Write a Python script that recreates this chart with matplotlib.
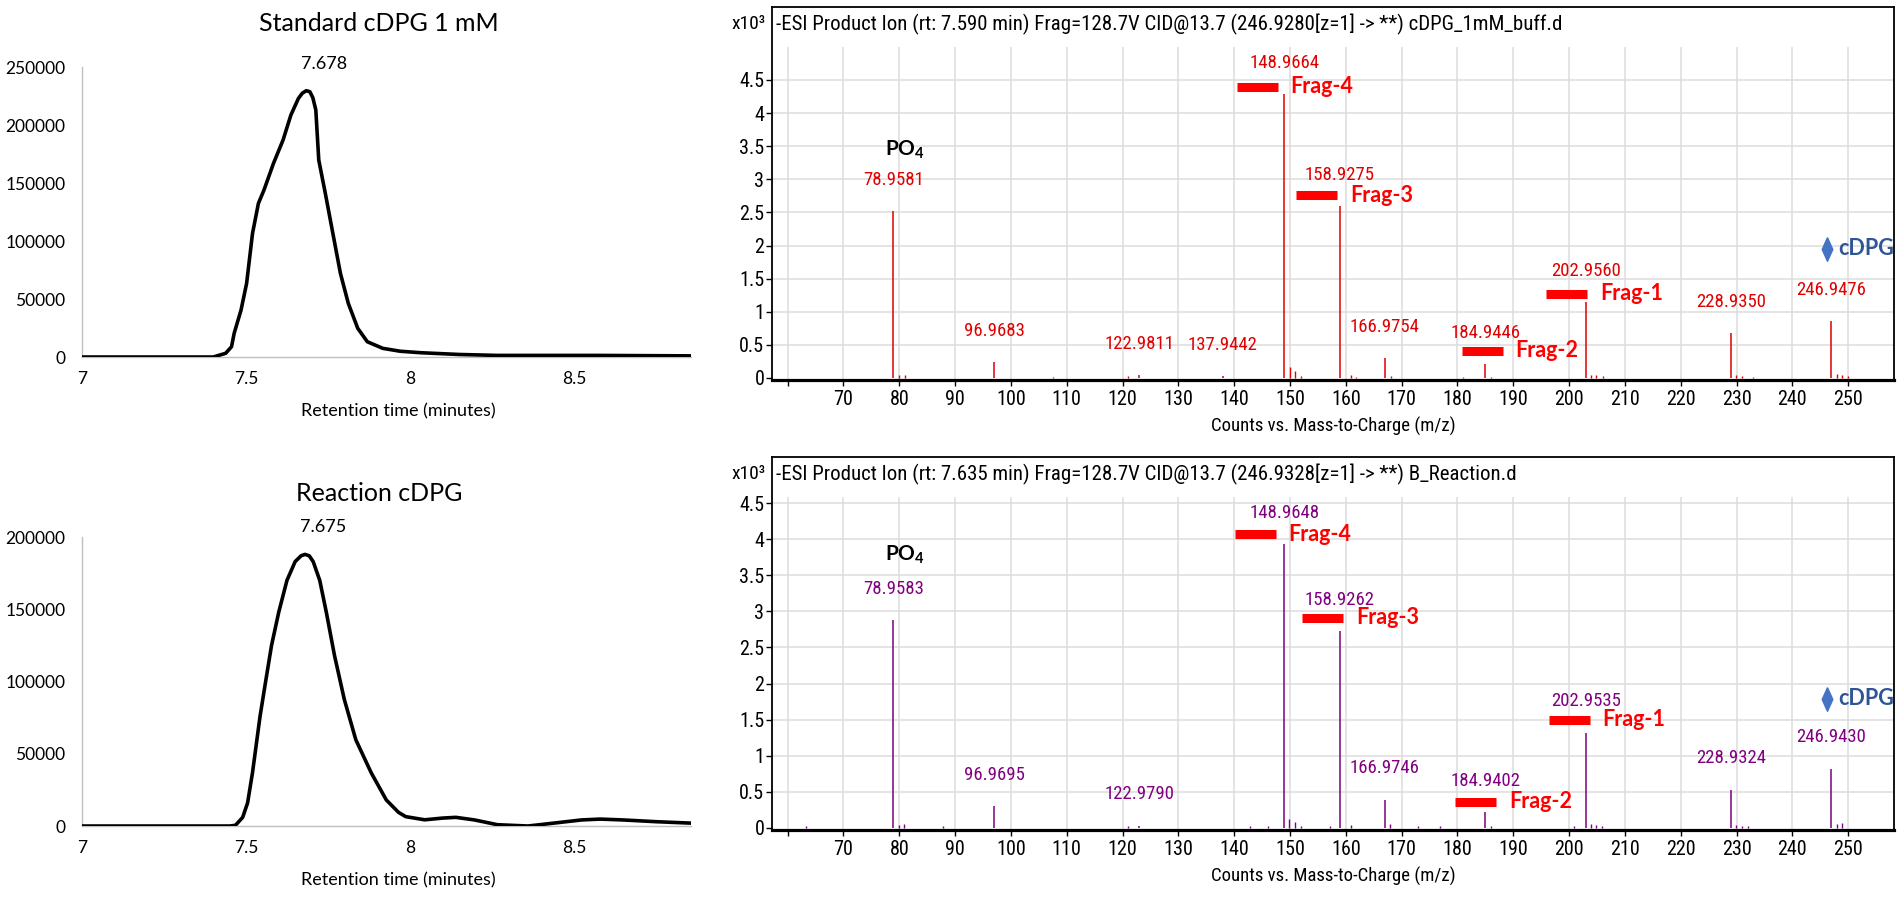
import numpy as np
import matplotlib.pyplot as plt
from matplotlib import font_manager as fm

plt.rcParams['font.family'] = ['Lato', 'DejaVu Sans']
plt.rcParams['mathtext.fontset'] = 'custom'
plt.rcParams['mathtext.rm'] = 'Lato'
plt.rcParams['mathtext.bf'] = 'Lato:bold'

# narrow font for the instrument-style panels, use what is installed
_names = {f.name for f in fm.fontManager.ttflist}
NARROW_STRETCH = 'normal'
if 'Liberation Sans Narrow' in _names:
    NARROW = ['Liberation Sans Narrow', 'DejaVu Sans']
elif 'Roboto Condensed' in _names:
    NARROW = ['Roboto Condensed', 'DejaVu Sans']
elif any(f.name == 'DejaVu Sans' and f.stretch == 'condensed' for f in fm.fontManager.ttflist):
    NARROW = ['DejaVu Sans']
    NARROW_STRETCH = 'condensed'
else:
    NARROW = ['Liberation Sans', 'DejaVu Sans']

# chromatograms: retention time (min) / intensity
std_t = [7.0, 7.40, 7.438, 7.456, 7.464, 7.485, 7.502, 7.52, 7.538, 7.555, 7.584, 7.613,
         7.637, 7.66, 7.672, 7.684, 7.695, 7.704, 7.713, 7.722, 7.742, 7.765, 7.788, 7.812,
         7.841, 7.87, 7.917, 7.97, 8.034, 8.15, 8.267, 8.57, 8.857]
std_v = [0, 0, 3200, 8900, 20400, 40500, 63500, 106600, 132500, 144000, 167000, 187000,
         208600, 223000, 227500, 229600, 228700, 223500, 213000, 169800, 141100, 106600, 72200, 46300,
         24700, 13200, 7500, 5000, 3700, 2200, 1400, 1400, 1000]
rxn_t = [7.0, 7.45, 7.468, 7.49, 7.505, 7.52, 7.543, 7.56, 7.578, 7.60, 7.625, 7.65, 7.668,
         7.68, 7.693, 7.705, 7.725, 7.745, 7.77, 7.80, 7.835, 7.882, 7.928, 7.965, 7.987,
         8.045, 8.10, 8.14, 8.197, 8.267, 8.36, 8.442, 8.523, 8.58, 8.65, 8.75, 8.857]
rxn_v = [0, 0, 500, 6000, 16000, 37000, 76000, 100000, 125000, 148000, 170000, 183000, 187000,
         188000, 187000, 183000, 170000, 148000, 118000, 87500, 59700, 36800, 18000, 9500, 6500,
         4300, 5500, 6000, 4200, 900, 0, 2100, 4200, 4800, 4200, 3000, 2000]
std_peak = 7.678
rxn_peak = 7.675

# MS/MS spectra: m/z / counts (x10^3); labelled peaks and minor peaks
std_mz = [78.9581, 96.9683, 122.9811, 137.9442, 148.9664, 158.9275, 166.9754, 184.9446,
          202.9560, 228.9350, 246.9476]
std_int = [2.52, 0.24, 0.04, 0.03, 4.29, 2.60, 0.30, 0.21, 1.15, 0.68, 0.86]
std_minor_mz = [80.0, 81.0, 107.5, 120.9, 150.0, 150.9, 152.0, 160.9, 161.9, 168.0, 181.0,
                186.0, 203.9, 204.9, 206.0, 229.9, 231.0, 233.0, 247.9, 248.9, 249.9]
std_minor_int = [0.05, 0.04, 0.02, 0.03, 0.17, 0.10, 0.03, 0.04, 0.02, 0.03, 0.02,
                 0.02, 0.05, 0.04, 0.03, 0.04, 0.03, 0.02, 0.06, 0.04, 0.03]

rxn_mz = [78.9583, 96.9695, 122.9790, 148.9648, 158.9262, 166.9746, 184.9402, 202.9535,
          228.9324, 246.9430]
rxn_int = [2.88, 0.30, 0.03, 3.93, 2.73, 0.39, 0.22, 1.32, 0.53, 0.82]
rxn_minor_mz = [63.2, 79.9, 80.9, 87.8, 121.0, 142.8, 146.0, 149.9, 150.9, 151.9, 157.1,
                160.9, 167.9, 173.0, 176.9, 186.0, 200.9, 203.9, 204.9, 205.9, 229.9,
                231.0, 232.0, 247.9, 248.9]
rxn_minor_int = [0.02, 0.04, 0.05, 0.02, 0.02, 0.02, 0.02, 0.12, 0.08, 0.03, 0.02,
                 0.04, 0.05, 0.02, 0.02, 0.03, 0.03, 0.05, 0.04, 0.03, 0.04,
                 0.03, 0.03, 0.05, 0.06]

frag_names = ['Frag-4', 'Frag-3', 'Frag-2', 'Frag-1']
std_frag_x = [140.5, 151.1, 180.8, 195.9]
std_frag_y = [4.40, 2.76, 0.41, 1.27]
rxn_frag_x = [140.1, 152.2, 179.6, 196.4]
rxn_frag_y = [4.07, 2.91, 0.36, 1.50]

std_header = '-ESI Product Ion (rt: 7.590 min) Frag=128.7V CID@13.7 (246.9280[z=1] -> **) cDPG_1mM_buff.d'
rxn_header = '-ESI Product Ion (rt: 7.635 min) Frag=128.7V CID@13.7 (246.9328[z=1] -> **) B_Reaction.d'

fig = plt.figure(figsize=(19.02, 9), dpi=100)


def chrom(rect, t, v, ymax, title, peak):
    ax = fig.add_axes(rect)
    ax.plot(t, v, color='black', lw=2.6, solid_joinstyle='round', solid_capstyle='round', zorder=3)
    ax.set_xlim(7, 8.857)
    ax.set_ylim(0, ymax)
    ax.set_xticks([7, 7.5, 8, 8.5], ['7', '7.5', '8', '8.5'])
    ax.set_yticks(np.arange(0, ymax + 1, 50000))
    ax.tick_params(length=0, labelsize=12.5)
    ax.tick_params(axis='y', pad=12)
    ax.tick_params(axis='x', pad=10)
    for s in ['top', 'right']:
        ax.spines[s].set_visible(False)
    for s in ['left', 'bottom']:
        ax.spines[s].set_color('#BFBFBF')
        ax.spines[s].set_linewidth(1)
    ax.set_xlabel('Retention time (minutes)', fontsize=13, labelpad=6)
    ax.xaxis.set_label_coords(0.52, -0.16)
    ax.annotate(title, (0.488, 1), xycoords='axes fraction', xytext=(0, 31),
                textcoords='offset points', ha='center', va='center', fontsize=18)
    pv = np.interp(peak, t, v)
    ax.annotate(f'{peak:.3f}', (peak, pv), xytext=(14, 20), textcoords='offset points',
                ha='center', va='center', fontsize=13)
    return ax


chrom([0.0431, 0.6033, 0.3202, 0.3222], std_t, std_v, 250000, 'Standard cDPG 1 mM', std_peak)
chrom([0.0431, 0.0822, 0.3202, 0.3211], rxn_t, rxn_v, 200000, 'Reaction cDPG', rxn_peak)


def narrow_text(**kw):
    return dict(family=NARROW, fontstretch=NARROW_STRETCH, **kw)


def spectrum(rect, mz, inten, minor_mz, minor_int, color, ytop, grid_top, header,
             frag_x, frag_y, po4_y, cdpg_y):
    ax = fig.add_axes(rect)
    ax.set_xlim(57.2, 258.2)
    ax.set_ylim(-0.03, ytop)
    xt = np.arange(60, 251, 10)
    yt = np.arange(0, 4.51, 0.5)
    # instrument-style grid, stops below the header line
    ax.vlines(xt, -0.03, grid_top, color='#DCDCDC', lw=1.1, zorder=0)
    ax.hlines(yt[1:], 57.2, 258.2, color='#DCDCDC', lw=1.1, zorder=0)
    ax.vlines(minor_mz, 0, minor_int, color=color, lw=1.0, zorder=2)
    ax.vlines(mz, 0, inten, color=color, lw=1.1, zorder=2)
    for m, h in zip(mz, inten):
        ax.annotate(f'{m:.4f}', (m, h), xytext=(0, 22.5), textcoords='offset points',
                    ha='center', va='center', color=color, **narrow_text(fontsize=13.5))
    for name, x0, y0 in zip(frag_names, frag_x, frag_y):
        ax.plot([x0, x0 + 7.3], [y0, y0], color='#FF0000', lw=6.5, solid_capstyle='butt', zorder=3)
        ax.text(x0 + 9.6, y0, name, color='#FF0000', fontsize=15.5, fontweight='bold',
                ha='left', va='center')
    ax.text(81.0, po4_y, r'PO$_\mathbf{4}$', fontsize=15, fontweight='bold', ha='center',
            va='center', color='black')
    ax.plot([246.2], [cdpg_y], marker=[(0, 1), (0.45, 0), (0, -1), (-0.45, 0), (0, 1)],
            markersize=17, color='#4472C4', linestyle='none')
    ax.text(248.2, cdpg_y, 'cDPG', color='#2F5597', fontsize=15.5, fontweight='bold',
            ha='left', va='center')
    ax.set_xticks(xt, [''] + [str(v) for v in xt[1:]])
    ax.set_yticks(yt, [f'{v:g}' for v in yt])
    ax.tick_params(direction='out', length=4.5, width=1, labelsize=14.5, pad=2.5)
    ax.tick_params(axis='y', pad=1)
    for lab in ax.get_xticklabels() + ax.get_yticklabels():
        lab.set_family(NARROW)
        lab.set_fontstretch(NARROW_STRETCH)
    for s in ['top', 'right', 'left']:
        ax.spines[s].set_linewidth(1.3)
    ax.spines['bottom'].set_linewidth(2.3)
    ax.set_xlabel('Counts vs. Mass-to-Charge (m/z)', labelpad=6, **narrow_text(fontsize=13.5))
    ax.text(0.0036, 0.954, header, transform=ax.transAxes, ha='left', va='center',
            **narrow_text(fontsize=15))
    ax.text(-0.006, 0.954, 'x10\u00b3', transform=ax.transAxes, ha='right', va='center',
            **narrow_text(fontsize=14))
    return ax


spectrum([0.4059, 0.5778, 0.5899, 0.4144], std_mz, std_int, std_minor_mz, std_minor_int,
         '#E00000', 5.6, 5.0, std_header, std_frag_x, std_frag_y, 3.44, 1.95)
spectrum([0.4059, 0.0778, 0.5899, 0.4144], rxn_mz, rxn_int, rxn_minor_mz, rxn_minor_int,
         '#800080', 5.14, 4.58, rxn_header, rxn_frag_x, rxn_frag_y, 3.78, 1.79)

fig.savefig('out.png', dpi=100)
